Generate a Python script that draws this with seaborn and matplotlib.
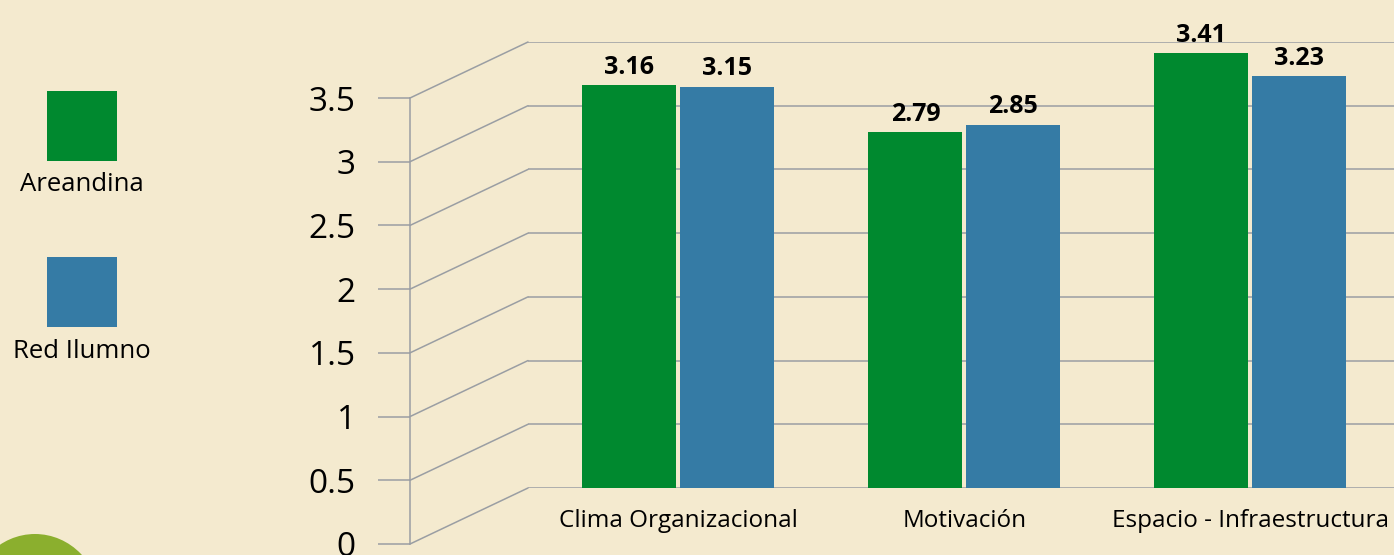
import seaborn as sns
import matplotlib.pyplot as plt
import pandas as pd
from matplotlib.patches import ConnectionPatch, Rectangle, Ellipse

categories = ["Clima Organizacional", "Motivación", "Espacio - Infraestructura"]
series = ["Areandina", "Red Ilumno"]
areandina = [3.16, 2.79, 3.41]
red_ilumno = [3.15, 2.85, 3.23]
colors = ["#00892F", "#357BA5"]
yticks = [0, 0.5, 1, 1.5, 2, 2.5, 3, 3.5]
ytick_labels = ["0", "0.5", "1", "1.5", "2", "2.5", "3", "3.5"]

df = pd.DataFrame({
    "categoria": categories * 2,
    "serie": [series[0]] * 3 + [series[1]] * 3,
    "valor": areandina + red_ilumno,
})

sns.set_style("white")
plt.rcParams["font.family"] = ["Open Sans", "DejaVu Sans"]
plt.rcParams["text.color"] = "black"
plt.rcParams["xtick.color"] = "black"
plt.rcParams["ytick.color"] = "black"

bg = "#F4EACF"
grid = "#9A9EA3"
W, H = 1394, 555


def px(x0, y0, x1, y1):
    return [x0 / W, 1 - y1 / H, (x1 - x0) / W, (y1 - y0) / H]


fig = plt.figure(figsize=(W / 100, H / 100), dpi=100, facecolor=bg)

# front axis (the one with the numbers)
front = fig.add_axes(px(410, 98, 1276, 544))
front.patch.set_alpha(0)
front.set_ylim(0, 3.5)
front.set_xlim(0, 1)
front.set_yticks(yticks)
front.set_yticklabels(ytick_labels, fontsize=24, color="black")
front.set_xticks([])
for s in ["top", "right", "bottom"]:
    front.spines[s].set_visible(False)
front.spines["left"].set_color(grid)
front.spines["left"].set_linewidth(1.1)
front.tick_params(axis="y", length=23, width=1.1, color=grid, pad=16, left=True)

# back wall with bars
back = fig.add_axes(px(528, 42, 1394, 488))
back.patch.set_alpha(0)
sns.barplot(data=df, x="categoria", y="valor", hue="serie", palette=colors,
            width=0.685, gap=0.04, saturation=1, legend=False, linewidth=0,
            ax=back)
back.set_xlim(-0.526, 2.502)
back.set_ylim(0, 3.5)
back.set_yticks(yticks)
back.grid(axis="y", color=grid, lw=1.1)
back.set_axisbelow(True)
for s in back.spines.values():
    s.set_visible(False)
back.set_xlabel("")
back.set_ylabel("")
back.tick_params(axis="y", left=False, labelleft=False)
back.tick_params(axis="x", length=0, pad=15, labelsize=17.5, labelcolor="black")

for c in back.containers:
    back.bar_label(c, fmt="%.2f", padding=4, fontsize=18, fontweight="bold",
                   color="black")

# diagonal lines joining front axis and back wall
x0 = back.get_xlim()[0]
for v in yticks:
    con = ConnectionPatch(xyA=(0, v), coordsA=front.transData,
                          xyB=(x0, v), coordsB=back.transData,
                          color=grid, lw=1.1)
    fig.add_artist(con)

# legend on the left
for i, name in enumerate(series):
    top = 91 + i * 166
    fig.add_artist(Rectangle((47 / W, 1 - (top + 70) / H), 70 / W, 70 / H,
                             transform=fig.transFigure, color=colors[i], lw=0))
    fig.text(82 / W, 1 - (top + 94) / H, name, ha="center", va="center",
             fontsize=18.5, color="black")

# green blob bottom left
fig.add_artist(Ellipse((35 / W, 1 - 602 / H), 130 / W, 136 / H,
                       transform=fig.transFigure, color="#8BAF2E", lw=0))

fig.savefig("out.png", dpi=100, facecolor=bg)
